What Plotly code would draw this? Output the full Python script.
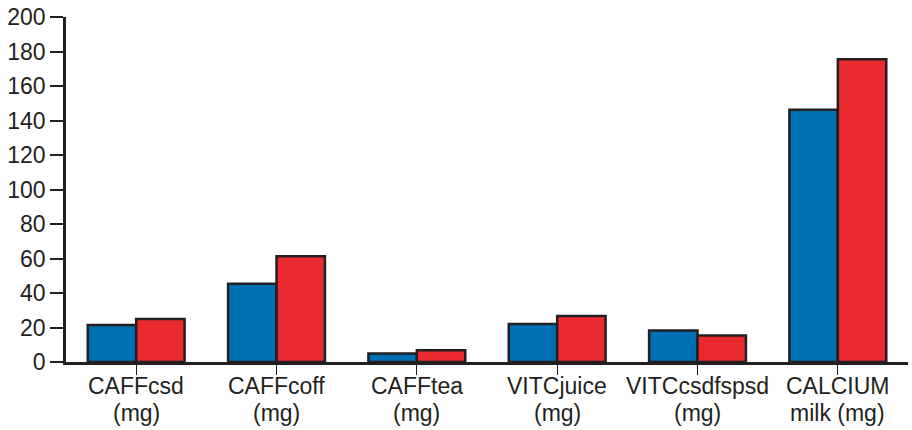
import plotly.graph_objects as go

categories = ["CAFFcsd<br>(mg)", "CAFFcoff<br>(mg)", "CAFFtea<br>(mg)",
              "VITCjuice<br>(mg)", "VITCcsdfspsd<br>(mg)", "CALCIUM<br>milk (mg)"]
series_blue = [21.5, 45.4, 5.0, 22.0, 18.3, 146.2]
series_red = [25.0, 61.3, 6.8, 26.6, 15.4, 175.5]
y_ticks = [0, 20, 40, 60, 80, 100, 120, 140, 160, 180, 200]

dark = "#231F20"
fig = go.Figure()
fig.add_trace(go.Bar(x=categories, y=series_blue, name="Group 1",
                     marker=dict(color="#0070B4", line=dict(color=dark, width=2.5))))
fig.add_trace(go.Bar(x=categories, y=series_red, name="Group 2",
                     marker=dict(color="#EA2A2F", line=dict(color=dark, width=2.5))))

# category labels drawn line by line (tighter line spacing than tick labels allow)
for cat in categories:
    for i, line in enumerate(cat.split("<br>")):
        fig.add_annotation(x=cat, y=0, xref="x", yref="y", text=line,
                           showarrow=False, xanchor="center", yanchor="middle",
                           yshift=-24 - 27 * i,
                           font=dict(size=23, color=dark))

fig.update_layout(
    width=912, height=430,
    margin=dict(l=66, r=4, t=17, b=68),
    paper_bgcolor="white", plot_bgcolor="white",
    barmode="group", bargap=0.31, bargroupgap=0,
    showlegend=False,
    font=dict(family="Liberation Sans, Arial, sans-serif", size=23, color=dark),
)
fig.update_xaxes(
    automargin=False, showticklabels=False,
    showline=True, linecolor=dark, linewidth=2.5,
    ticks="outside", ticklen=10, tickwidth=1, tickcolor=dark,
    showgrid=False, zeroline=False,
)
fig.update_yaxes(
    automargin=False,
    range=[0, 200], tickvals=y_ticks,
    showline=True, linecolor=dark, linewidth=2.5,
    ticks="outside", ticklen=13, tickwidth=1.5, tickcolor=dark,
    showgrid=False, zeroline=False,
    tickfont=dict(size=23, color=dark),
)
fig.write_html("out.html", config={"displayModeBar": False})

with open("out.html", "r", encoding="utf-8") as f:
    html = f.read()
html = html.replace("<body>", '<body style="margin:0;padding:0;overflow:hidden">', 1)
with open("out.html", "w", encoding="utf-8") as f:
    f.write(html)
